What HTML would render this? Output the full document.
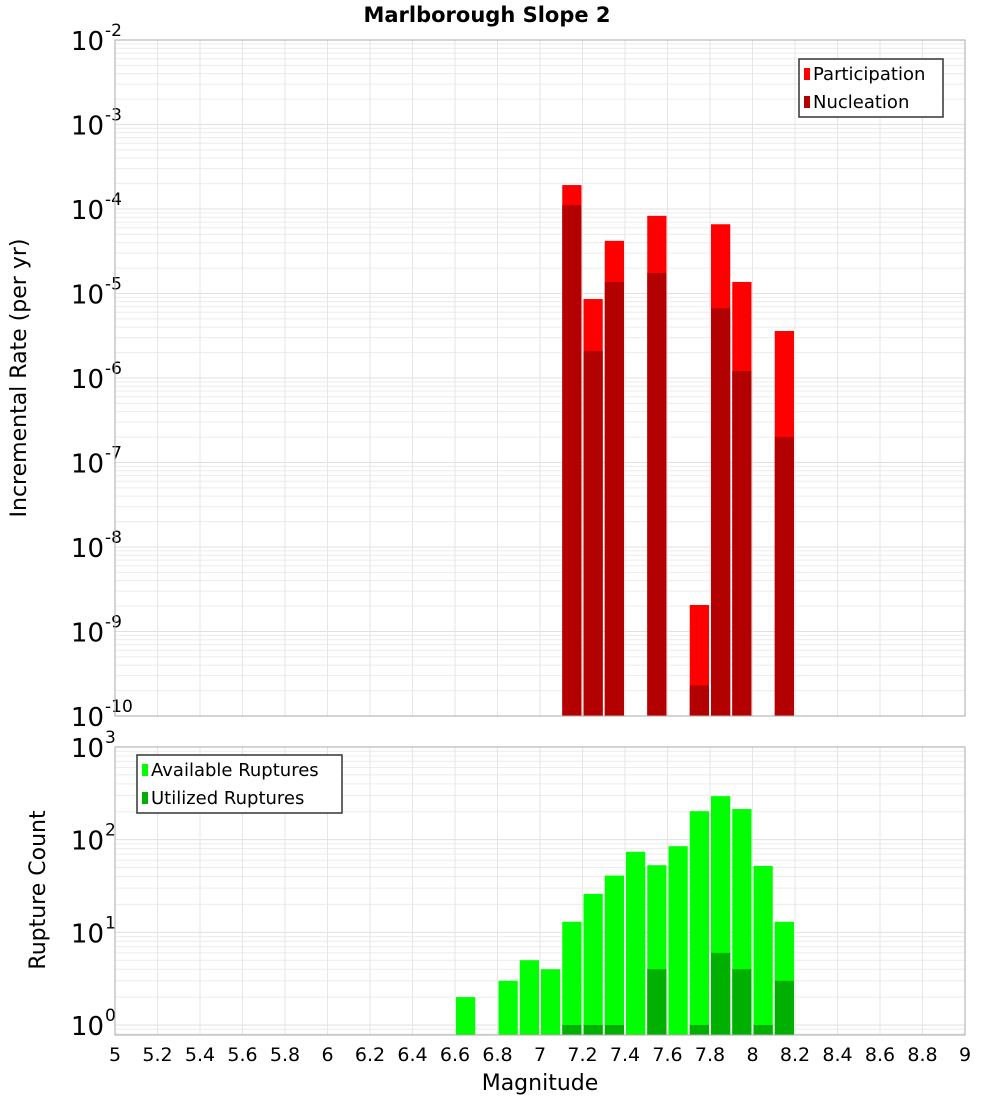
<!DOCTYPE html>
<html><head><meta charset="utf-8"><style>
body{margin:0;background:#fff;font-family:"DejaVu Sans","Liberation Sans",sans-serif}
svg text{font-family:"DejaVu Sans","Liberation Sans",sans-serif}
</style></head><body>
<svg id="c" width="1000" height="1100" xmlns="http://www.w3.org/2000/svg">
<text x="487" y="22" text-anchor="middle" font-size="21" font-weight="bold">Marlborough Slope 2</text>
<g id="gtop"></g>
<g id="gbot"></g>
<text transform="translate(26,378) rotate(-90)" text-anchor="middle" font-size="22">Incremental Rate (per yr)</text>
<text transform="translate(45,890) rotate(-90)" text-anchor="middle" font-size="22">Rupture Count</text>
<text x="540" y="1090" text-anchor="middle" font-size="22">Magnitude</text>
</svg>
<script>
const bins=[6.65,6.75,6.85,6.95,7.05,7.15,7.25,7.35,7.45,7.55,7.65,7.75,7.85,7.95,8.05,8.15];
const participation=[0,0,0,0,0,1.92e-4,8.6e-6,4.2e-5,0,8.3e-5,0,2.06e-9,6.6e-5,1.37e-5,0,3.6e-6];
const nucleation=[0,0,0,0,0,1.11e-4,2.09e-6,1.37e-5,0,1.75e-5,0,2.3e-10,6.7e-6,1.21e-6,0,2.0e-7];
const available=[2,0,3,5,4,13,26,41,74,53,85,203,295,214,52,13];
const utilized=[0,0,0,0,0,1,1,1,0,4,0,1,6,4,1,3];
const xTicks=["5","5.2","5.4","5.6","5.8","6","6.2","6.4","6.6","6.8","7","7.2","7.4","7.6","7.8","8","8.2","8.4","8.6","8.8","9"];
const NS="http://www.w3.org/2000/svg";
const L=115,R=965;
const x=m=>L+(m-5)/4*(R-L);
function mk(p,t,a){const e=document.createElementNS(NS,t);for(const k in a)e.setAttribute(k,a[k]);p.appendChild(e);return e;}
function panel(g,top,bot,lmin,lmax,ylog){
  const y=v=>bot-(Math.log10(v)-lmin)/(lmax-lmin)*(bot-top);
  mk(g,'rect',{x:L,y:top,width:R-L,height:bot-top,fill:'#fff'});
  for(let d=Math.floor(lmin);d<Math.ceil(lmax);d++)for(let k=1;k<10;k++){const v=k*Math.pow(10,d);const yy=y(v);if(yy<top-0.1||yy>bot)continue;
    const ln=mk(g,'line',{x1:L,x2:R,y1:yy,y2:yy,stroke:k==1?'#e0e0e0':'#ececec','stroke-width':1});
    
    }
  xTicks.forEach(t=>{const xx=x(+t);const ln=mk(g,'line',{x1:xx,x2:xx,y1:top,y2:bot,stroke:'#e6e6e6'});
    
    });
  for(let d=Math.ceil(lmin-0.001);d<=lmax;d++){const yy=y(Math.pow(10,d));
    const t=mk(g,'text',{x:ylog,y:yy+10,'font-size':26,'text-anchor':'end'});t.textContent='10';
    
    
    const s=mk(g,'text',{x:ylog+1,y:yy-4,'font-size':17});s.textContent=String(d);}
  return y;
}
const gTop=document.getElementById('gtop'),gBot=document.getElementById('gbot');
const yT=panel(gTop,40,716,-10,-2,104);
const yB=panel(gBot,747,1035,-0.108,3,104);
function bars(g,y,vals,col,base,name){vals.forEach((v,i)=>{if(!v)return;const x0=x(bins[i]-0.05)+1,x1=x(bins[i]+0.05)-1,yy=y(v);
  const r=mk(g,'rect',{x:x0,y:yy,width:x1-x0,height:base-yy,fill:col});
  
  });}
bars(gTop,yT,participation,'#ff0000',716,'participation-bar');
bars(gTop,yT,nucleation,'#b30000',716,'nucleation-bar');
bars(gBot,yB,available,'#00ff00',1035,'available-bar');
bars(gBot,yB,utilized,'#00b000',1035,'utilized-bar');
[[gTop,40,716],[gBot,747,1035]].forEach(([g,a,b])=>mk(g,'rect',{x:L,y:a,width:R-L,height:b-a,fill:'none',stroke:'#aaa'}));
xTicks.forEach(t=>{const e=mk(gBot,'text',{x:x(+t),y:1061,'font-size':19,'text-anchor':'middle'});e.textContent=t;
  
  });
function legend(g,x0,y0,w,items,name){const lg=mk(g,'g',{});
  
  
  mk(lg,'rect',{x:x0,y:y0,width:w,height:58,fill:'#fff',stroke:'#333','stroke-width':1.5});
  items.forEach((it,i)=>{mk(lg,'rect',{x:x0+5,y:y0+9+i*28,width:6,height:12,fill:it[1]});
    const t=mk(lg,'text',{x:x0+14,y:y0+21+i*28,'font-size':18});t.textContent=it[0];});}
legend(gTop,799,59,144,[['Participation','#ff0000'],['Nucleation','#b30000']],'rate-legend');
legend(gBot,137,755,205,[['Available Ruptures','#00ff00'],['Utilized Ruptures','#00b000']],'count-legend');
</script>
</body></html>
